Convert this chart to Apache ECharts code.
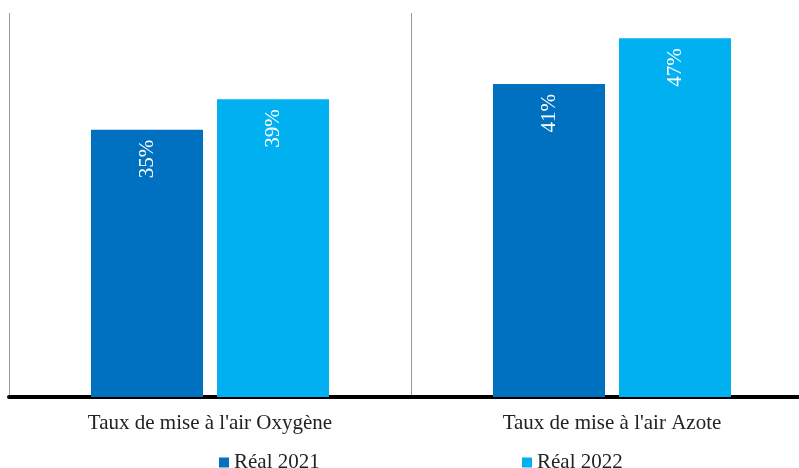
<!DOCTYPE html>
<html><head><meta charset="utf-8">
<script src="https://cdn.jsdelivr.net/npm/echarts@6/dist/echarts.min.js"></script>
<style>html,body{margin:0;padding:0;background:#fff;overflow:hidden}#c{width:814px;height:468px}</style>
</head><body><div id="c"></div>
<script>
const categories = ["Taux de mise à l'air Oxygène", "Taux de mise à l'air Azote"];
const seriesNames = ["Réal 2021", "Réal 2022"];
const real2021 = [35, 41];
const real2022 = [39, 47];
const colors = ["#0070C0", "#00B0F0"];
const FONT = "'Palatino Linotype','Book Antiqua',Palatino,'Liberation Serif',serif";

const chart = echarts.init(document.getElementById('c'));
const label = {
  show: true, position: 'insideTop', rotate: 90, align: 'right', verticalAlign: 'middle',
  distance: 10, color: '#fff', fontFamily: FONT, fontSize: 21,
  formatter: p => p.value + '%'
};
chart.setOption({
  animation: false,
  grid: {left: 9, top: 13, width: 804, height: 384, containLabel: false},
  legend: [
    {data: [seriesNames[0]], left: 214, top: 447, itemWidth: 10, itemHeight: 10, itemGap: 4,
     icon: 'rect', textStyle: {fontFamily: FONT, fontSize: 21, color: '#222'}},
    {data: [seriesNames[1]], left: 517, top: 447, itemWidth: 10, itemHeight: 10, itemGap: 4,
     icon: 'rect', textStyle: {fontFamily: FONT, fontSize: 21, color: '#222'}}
  ],
  xAxis: {
    type: 'category', data: categories, offset: 2,
    axisLine: {lineStyle: {color: '#000', width: 4}},
    axisTick: {show: false},
    axisLabel: {fontFamily: FONT, fontSize: 21, color: '#222', margin: 14},
    splitLine: {show: true, lineStyle: {color: '#999', width: 1}}
  },
  yAxis: {
    type: 'value', min: 0, max: 50.3,
    axisLine: {show: false}, axisTick: {show: false}, axisLabel: {show: false},
    splitLine: {show: false}
  },
  series: [
    {name: seriesNames[0], type: 'bar', data: real2021, barWidth: 112, barGap: '12.5%',
     itemStyle: {color: colors[0]}, label: label},
    {name: seriesNames[1], type: 'bar', data: real2022, barWidth: 112, barGap: '12.5%',
     itemStyle: {color: colors[1]}, label: label}
  ]
});
</script></body></html>
